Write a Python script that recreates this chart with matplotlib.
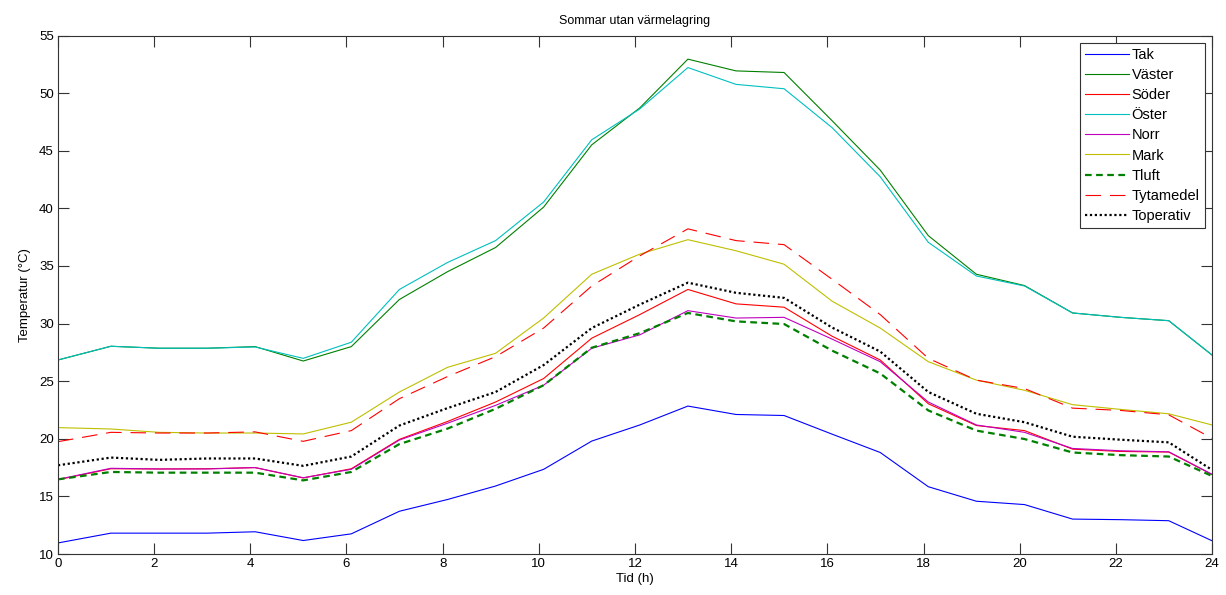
import numpy as np
import matplotlib
matplotlib.use("Agg")
import matplotlib.pyplot as plt

# tid (h): mätpunkter strax efter varje hel timme
tid = [0, 1.1, 2.1, 3.1, 4.1, 5.1, 6.1, 7.1, 8.1, 9.1, 10.1, 11.1, 12.1,
       13.1, 14.1, 15.1, 16.1, 17.1, 18.1, 19.1, 20.1, 21.1, 22.1, 23.1, 24]

tak = [10.96, 11.81, 11.81, 11.81, 11.93, 11.17, 11.75, 13.71, 14.73, 15.9, 17.35, 19.8, 21.2,
       22.84, 22.11, 22.02, 20.4, 18.81, 15.84, 14.58, 14.29, 13.03, 12.98, 12.89, 11.15]
vaster = [26.84, 28.03, 27.86, 27.86, 28.0, 26.75, 28.0, 32.09, 34.5, 36.6, 40.11, 45.51, 48.72,
          52.95, 51.93, 51.79, 47.6, 43.32, 37.63, 34.28, 33.3, 30.92, 30.54, 30.25, 27.27]
soder = [16.45, 17.4, 17.38, 17.4, 17.5, 16.6, 17.4, 19.95, 21.5, 23.19, 25.23, 28.73, 30.78,
         32.96, 31.71, 31.42, 28.9, 26.84, 23.04, 21.15, 20.71, 19.1, 18.9, 18.85, 16.9]
oster = [26.84, 28.03, 27.86, 27.86, 27.97, 26.98, 28.38, 32.96, 35.3, 37.2, 40.55, 45.95, 48.63,
         52.22, 50.76, 50.38, 47.0, 42.74, 37.05, 34.13, 33.26, 30.92, 30.54, 30.25, 27.27]
norr = [16.48, 17.44, 17.38, 17.38, 17.5, 16.62, 17.35, 19.89, 21.35, 22.9, 24.65, 27.86, 29.02,
        31.12, 30.48, 30.54, 28.65, 26.69, 23.19, 21.2, 20.56, 19.16, 18.96, 18.87, 16.92]
mark = [20.97, 20.85, 20.56, 20.5, 20.5, 20.42, 21.44, 24.06, 26.2, 27.42, 30.48, 34.28, 36.03,
        37.28, 36.32, 35.15, 31.94, 29.61, 26.69, 25.09, 24.21, 22.96, 22.55, 22.17, 21.2]
tluft = [16.48, 17.12, 17.06, 17.06, 17.06, 16.39, 17.12, 19.54, 20.88, 22.6, 24.65, 27.9, 29.17,
         30.92, 30.19, 29.96, 27.65, 25.67, 22.46, 20.71, 19.98, 18.81, 18.58, 18.46, 16.77]
tytamedel = [19.75, 20.56, 20.5, 20.5, 20.6, 19.78, 20.71, 23.48, 25.4, 27.13, 29.61, 33.26, 35.88,
             38.22, 37.2, 36.85, 33.84, 30.78, 26.98, 25.09, 24.36, 22.66, 22.46, 22.08, 20.04]
toperativ = [17.7, 18.37, 18.17, 18.29, 18.29, 17.65, 18.46, 21.15, 22.66, 24.06, 26.4, 29.61, 31.65,
             33.55, 32.67, 32.23, 29.65, 27.57, 24.06, 22.17, 21.44, 20.18, 19.92, 19.69, 17.3]

plt.rcParams['font.family'] = ['Liberation Sans', 'DejaVu Sans']
plt.rcParams['font.size'] = 9

fig = plt.figure(figsize=(12.26, 5.95), dpi=100, facecolor='white')
ax = fig.add_axes([0.0473, 0.0689, 0.9413, 0.8714])

ax.plot(tid, tak, color=(0, 0, 1), lw=0.8, label='Tak')
ax.plot(tid, vaster, color=(0, 0.5, 0), lw=0.8, label='Väster')
ax.plot(tid, soder, color=(1, 0, 0), lw=0.8, label='Söder')
ax.plot(tid, oster, color=(0, 0.75, 0.75), lw=0.8, label='Öster')
ax.plot(tid, norr, color=(0.75, 0, 0.75), lw=0.8, label='Norr')
ax.plot(tid, mark, color=(0.75, 0.75, 0), lw=0.8, label='Mark')
ax.plot(tid, tluft, color=(0, 0.5, 0), lw=1.6, ls=(0, (3, 2)), label='Tluft')
ax.plot(tid, tytamedel, color=(1, 0, 0), lw=0.8, ls=(0, (14, 8)), label='Tytamedel')
ax.plot(tid, toperativ, color='black', lw=1.6, ls=(0, (1, 1.2)), label='Toperativ')

ax.set_xlim(0, 24)
ax.set_ylim(10, 55)
ax.set_xticks(np.arange(0, 25, 2))
ax.set_yticks(np.arange(10, 56, 5))
ax.tick_params(direction='in', length=8, width=0.8, top=True, right=True,
               color='#333333', labelsize=9.5, pad=3)
for s in ax.spines.values():
    s.set_linewidth(0.8)
    s.set_color('#333333')

ax.set_title('Sommar utan värmelagring', fontsize=9, pad=8)
ax.set_xlabel('Tid (h)', fontsize=9.5, labelpad=2)
ax.set_ylabel('Temperatur (°C)', fontsize=9.5, labelpad=6)

leg = ax.legend(loc='upper right', fontsize=10.5, fancybox=False, framealpha=1,
                edgecolor='#333333', handlelength=3.0, handletextpad=0.2,
                labelspacing=0.42, borderaxespad=0.5, borderpad=0.35)
leg.get_frame().set_linewidth(0.8)

fig.savefig('out.png', dpi=100, facecolor='white')
